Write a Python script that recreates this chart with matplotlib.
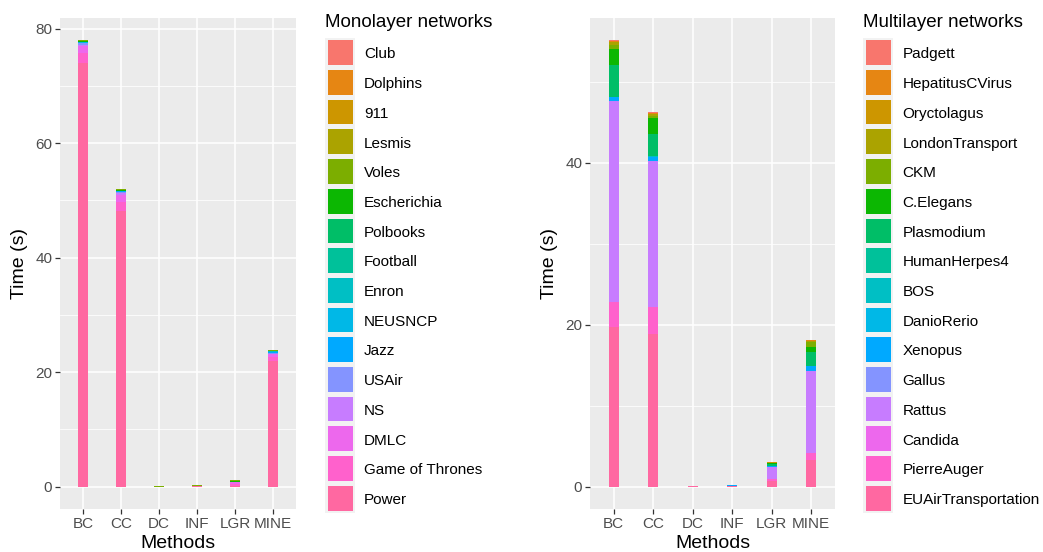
import matplotlib.pyplot as plt
from matplotlib.patches import Rectangle
from matplotlib.ticker import MultipleLocator

plt.rcParams['font.family'] = ['Liberation Sans', 'DejaVu Sans']

methods = ['BC', 'CC', 'DC', 'INF', 'LGR', 'MINE']

# ggplot2 default hue palette for 16 levels
palette = ['#F8766D', '#E68613', '#CD9600', '#ABA300', '#7CAE00', '#0CB702',
           '#00BE67', '#00C19A', '#00BFC4', '#00B8E7', '#00A9FF', '#8494FF',
           '#C77CFF', '#ED68ED', '#FF61CC', '#FF68A1']

# ---- monolayer networks (seconds per method) ----
mono_names = ['Club', 'Dolphins', '911', 'Lesmis', 'Voles', 'Escherichia',
              'Polbooks', 'Football', 'Enron', 'NEUSNCP', 'Jazz', 'USAir',
              'NS', 'DMLC', 'Game of Thrones', 'Power']
mono_bc = [0.01, 0.01, 0.01, 0.05, 0.12, 0.10, 0.03, 0.02, 0.02, 0.08, 0.15, 0.25,
           0.25, 1.15, 1.75, 74.0]
mono_cc = [0.01, 0.01, 0.01, 0.05, 0.15, 0.10, 0.04, 0.02, 0.02, 0.05, 0.15, 0.20,
           0.30, 1.20, 1.60, 48.1]
mono_dc = [0, 0, 0, 0, 0.05, 0, 0, 0, 0, 0, 0, 0, 0, 0, 0, 0.01]
mono_inf = [0, 0, 0, 0.05, 0.10, 0, 0, 0, 0, 0, 0, 0, 0, 0, 0.05, 0.10]
mono_lgr = [0, 0, 0, 0.03, 0.12, 0.10, 0, 0, 0, 0.02, 0.05, 0.03,
            0.05, 0.35, 0.25, 0.15]
mono_mine = [0, 0, 0, 0.03, 0.10, 0.10, 0.05, 0, 0.02, 0.05, 0.15, 0.15,
             0.15, 0.50, 0.60, 22.0]

# ---- multilayer networks ----
multi_names = ['Padgett', 'HepatitusCVirus', 'Oryctolagus', 'LondonTransport',
               'CKM', 'C.Elegans', 'Plasmodium', 'HumanHerpes4', 'BOS',
               'DanioRerio', 'Xenopus', 'Gallus', 'Rattus', 'Candida',
               'PierreAuger', 'EUAirTransportation']
multi_bc = [0.10, 0.10, 0.10, 0.30, 0.50, 2.00, 3.90, 0.02, 0.01, 0.02, 0.50, 0.01,
            24.75, 0.01, 3.10, 19.7]
multi_cc = [0.08, 0.05, 0.08, 0.20, 0.30, 1.90, 2.80, 0.02, 0.01, 0.02, 0.50, 0.01,
            18.0, 0.01, 3.40, 18.8]
multi_dc = [0, 0, 0, 0, 0, 0, 0, 0, 0, 0, 0, 0, 0, 0, 0, 0.05]
multi_inf = [0, 0, 0, 0, 0, 0, 0, 0, 0, 0, 0.10, 0, 0, 0, 0, 0.05]
multi_lgr = [0.03, 0.03, 0.03, 0.03, 0.05, 0.12, 0.25, 0, 0, 0, 0.13, 0,
             1.45, 0, 0.25, 0.68]
multi_mine = [0.05, 0.05, 0.05, 0.10, 0.60, 0.65, 1.70, 0.02, 0.01, 0.02, 0.55, 0.01,
              10.1, 0.01, 0.90, 3.30]

mono_times = [mono_bc, mono_cc, mono_dc, mono_inf, mono_lgr, mono_mine]
multi_times = [multi_bc, multi_cc, multi_dc, multi_inf, multi_lgr, multi_mine]

W, H = 1043, 552
fig = plt.figure(figsize=(W / 100, H / 100), dpi=100)


def stacked_panel(rect, names, times, ylab_x):
    ax = fig.add_axes(rect)
    x = list(range(1, len(methods) + 1))
    bottom = [0.0] * len(methods)
    # first level ends up on top, like position_stack
    for i in reversed(range(len(names))):
        vals = [t[i] for t in times]
        ax.bar(x, vals, 0.25, bottom=bottom, color=palette[i], linewidth=0, zorder=2)
        bottom = [b + v for b, v in zip(bottom, vals)]
    top = max(bottom)
    ax.set_ylim(-0.05 * top, 1.05 * top)
    ax.set_xlim(0.4, len(methods) + 0.6)
    ax.set_xticks(x)
    ax.set_xticklabels(methods)
    ax.yaxis.set_major_locator(MultipleLocator(20))
    ax.yaxis.set_minor_locator(MultipleLocator(10))

    ax.set_facecolor('#EBEBEB')
    for s in ax.spines.values():
        s.set_visible(False)
    ax.set_axisbelow(True)
    ax.grid(which='major', color='white', linewidth=1.1)
    ax.grid(which='minor', axis='y', color='white', linewidth=0.55)
    ax.tick_params(which='minor', length=0)
    ax.tick_params(which='major', length=3.5, width=0.9, color='#333333',
                   labelsize=11, labelcolor='#4D4D4D', pad=2)

    ax.set_ylabel('Time (s)', fontsize=14)
    ax.yaxis.set_label_coords(ylab_x, 0.5)
    ax.set_xlabel('Methods', fontsize=14)
    ax.xaxis.set_label_coords(0.5, -0.052)
    return ax


ax1 = stacked_panel([60 / W, 43 / H, 236 / W, 491.3 / H], mono_names, mono_times, -0.135)
ax2 = stacked_panel([590 / W, 43 / H, 245 / W, 491.3 / H], multi_names, multi_times, -0.13)

# legends drawn on a pixel-space overlay
lg = fig.add_axes([0, 0, 1, 1], facecolor='none')
lg.set_xlim(0, W)
lg.set_ylim(H, 0)
lg.axis('off')

key_h = 29.7
key_top = 37.8


def draw_legend(x0, title, names):
    lg.text(x0, 27, title, fontsize=13.5, va='baseline', ha='left')
    lg.add_patch(Rectangle((x0, key_top), 30, key_h * len(names),
                           facecolor='#F2F2F2', edgecolor='none'))
    for k, name in enumerate(names):
        y = key_top + k * key_h
        lg.add_patch(Rectangle((x0 + 2.5, y + 2.5), 25, key_h - 5,
                               facecolor=palette[k], edgecolor='none'))
        lg.text(x0 + 39, y + key_h / 2 + 5.8, name, fontsize=11,
                va='baseline', ha='left')


draw_legend(325, 'Monolayer networks', mono_names)
draw_legend(863.3, 'Multilayer networks', multi_names)

fig.savefig('out.png', dpi=100)
